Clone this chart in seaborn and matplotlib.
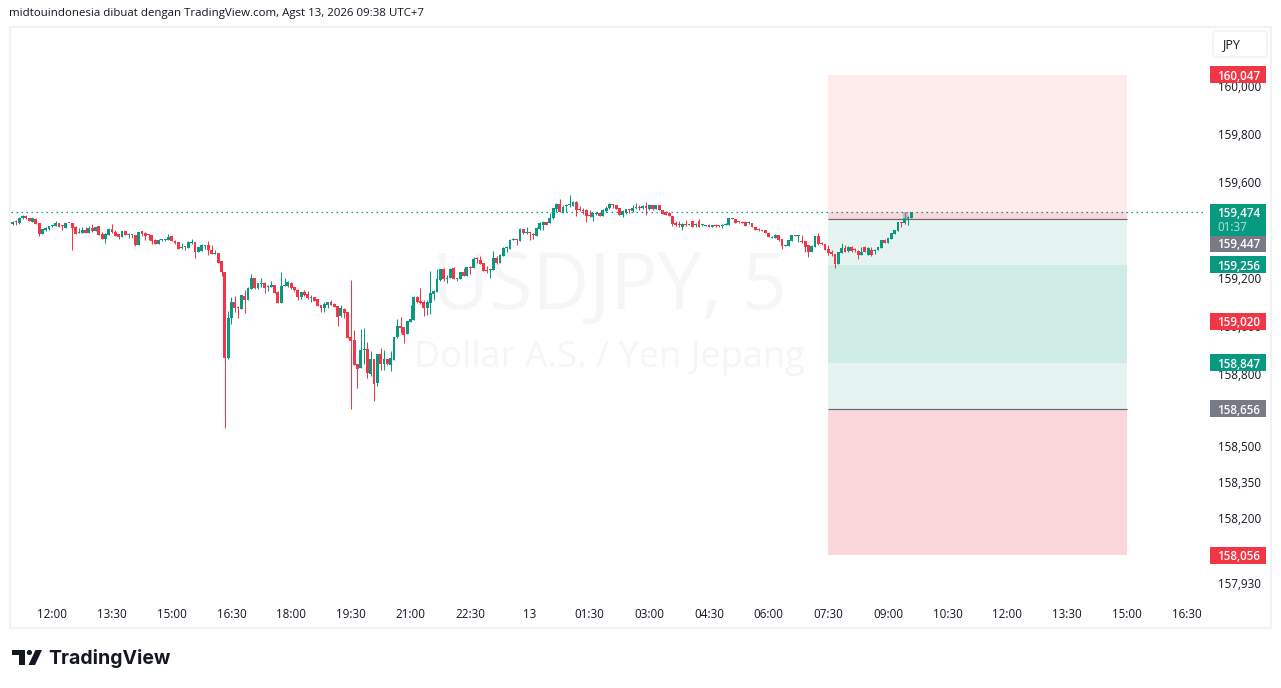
import matplotlib
matplotlib.use('Agg')
import matplotlib.pyplot as plt
import pandas as pd
import seaborn as sns
from matplotlib.patches import Circle, FancyBboxPatch, Polygon, Rectangle
from matplotlib.ticker import StrMethodFormatter

# USDJPY 5 minute candles (price as the axis prints it, 159,427 -> 159427)
opens = [
    159427, 159435, 159428, 159449, 159459, 159449, 159434, 159446, 159428, 159384,
    159398, 159403, 159417, 159418, 159430, 159418, 159409, 159430, 159430, 159413,
    159389, 159389, 159400, 159388, 159409, 159396, 159417, 159382, 159363, 159379,
    159404, 159393, 159384, 159371, 159396, 159381, 159384, 159379, 159338, 159396,
    159386, 159384, 159379, 159359, 159342, 159359, 159359, 159359, 159375, 159356,
    159350, 159327, 159331, 159325, 159346, 159350, 159310, 159313, 159332, 159338,
    159317, 159300, 159303, 159271, 159225, 158866, 159032, 159100, 159079, 159070,
    159125, 159108, 159154, 159200, 159158, 159177, 159179, 159164, 159164, 159170,
    159141, 159095, 159166, 159166, 159179, 159162, 159150, 159120, 159141, 159133,
    159118, 159120, 159112, 159087, 159075, 159087, 159100, 159091, 159083, 159041,
    159070, 159058, 158954, 158941, 158841, 158825, 158900, 158904, 158800, 158862,
    158762, 158883, 158841, 158862, 158837, 158858, 158954, 159000, 158996, 158966,
    159016, 159025, 159120, 159104, 159100, 159075, 159095, 159133, 159141, 159192,
    159238, 159196, 159200, 159241, 159196, 159196, 159225, 159209, 159246, 159242,
    159282, 159275, 159263, 159234, 159235, 159233, 159283, 159263, 159292, 159323,
    159321, 159359, 159363, 159354, 159404, 159388, 159391, 159385, 159375, 159404,
    159421, 159434, 159429, 159450, 159488, 159510, 159474, 159499, 159503, 159500,
    159517, 159486, 159484, 159484, 159461, 159454, 159468, 159471, 159459, 159479,
    159492, 159509, 159504, 159492, 159463, 159471, 159488, 159479, 159491, 159496,
    159491, 159500, 159488, 159504, 159488, 159504, 159483, 159475, 159471, 159458,
    159429, 159422, 159413, 159425, 159422, 159436, 159422, 159438, 159420, 159418,
    159421, 159414, 159421, 159418, 159418, 159421, 159421, 159450, 159446, 159438,
    159433, 159433, 159428, 159429, 159413, 159404, 159400, 159400, 159388, 159368,
    159367, 159379, 159363, 159333, 159333, 159354, 159379, 159375, 159353, 159354,
    159338, 159308, 159329, 159375, 159345, 159342, 159321, 159308, 159300, 159258,
    159306, 159325, 159313, 159331, 159321, 159313, 159296, 159329, 159296, 159317,
    159313, 159317, 159325, 159358, 159345, 159363, 159384, 159396, 159433, 159429, 159446, 159450,
]
highs = [
    159438, 159442, 159453, 159463, 159463, 159449, 159450, 159449, 159428, 159403,
    159411, 159417, 159421, 159436, 159431, 159421, 159430, 159430, 159430, 159417,
    159407, 159413, 159413, 159417, 159425, 159413, 159417, 159392, 159389, 159407,
    159425, 159398, 159384, 159396, 159396, 159389, 159384, 159379, 159392, 159396,
    159392, 159384, 159379, 159364, 159363, 159363, 159363, 159384, 159375, 159359,
    159350, 159346, 159334, 159354, 159363, 159352, 159329, 159342, 159338, 159354,
    159338, 159317, 159303, 159271, 159226, 159062, 159120, 159125, 159083, 159129,
    159150, 159162, 159216, 159200, 159179, 159200, 159183, 159170, 159187, 159170,
    159145, 159225, 159200, 159187, 159183, 159166, 159154, 159141, 159150, 159145,
    159129, 159120, 159112, 159087, 159100, 159100, 159108, 159095, 159083, 159087,
    159075, 159058, 159191, 158983, 158841, 158989, 158991, 158933, 158895, 158862,
    158883, 158908, 158900, 158862, 158895, 158954, 159029, 159037, 158996, 159020,
    159087, 159125, 159125, 159158, 159108, 159108, 159229, 159150, 159237, 159238,
    159241, 159213, 159242, 159245, 159200, 159225, 159242, 159245, 159250, 159288,
    159289, 159292, 159263, 159250, 159238, 159313, 159292, 159300, 159329, 159335,
    159363, 159366, 159363, 159409, 159404, 159413, 159393, 159389, 159413, 159434,
    159438, 159434, 159471, 159492, 159513, 159530, 159504, 159509, 159546, 159521,
    159521, 159500, 159492, 159488, 159484, 159471, 159475, 159475, 159488, 159500,
    159513, 159509, 159504, 159492, 159484, 159488, 159488, 159504, 159513, 159504,
    159504, 159517, 159508, 159504, 159504, 159504, 159483, 159479, 159475, 159458,
    159438, 159438, 159429, 159442, 159425, 159438, 159429, 159446, 159425, 159421,
    159425, 159421, 159425, 159421, 159425, 159428, 159450, 159450, 159446, 159438,
    159438, 159438, 159438, 159429, 159413, 159407, 159400, 159400, 159388, 159374,
    159384, 159379, 159363, 159338, 159358, 159379, 159379, 159379, 159379, 159354,
    159338, 159338, 159375, 159388, 159352, 159342, 159338, 159317, 159300, 159308,
    159346, 159338, 159333, 159333, 159324, 159317, 159329, 159333, 159329, 159329,
    159321, 159329, 159358, 159361, 159366, 159388, 159400, 159433, 159433, 159477, 159458, 159475,
]
lows = [
    159421, 159421, 159425, 159446, 159445, 159438, 159432, 159425, 159373, 159384,
    159395, 159400, 159414, 159417, 159413, 159400, 159409, 159428, 159317, 159384,
    159388, 159388, 159388, 159388, 159391, 159395, 159379, 159363, 159346, 159379,
    159389, 159375, 159363, 159371, 159379, 159367, 159368, 159335, 159338, 159375,
    159359, 159359, 159342, 159342, 159342, 159354, 159354, 159359, 159354, 159342,
    159321, 159321, 159317, 159325, 159342, 159284, 159309, 159313, 159321, 159296,
    159300, 159300, 159263, 159209, 158575, 158862, 159008, 159058, 159033, 159070,
    159054, 159108, 159154, 159154, 159154, 159164, 159137, 159145, 159162, 159137,
    159095, 159095, 159166, 159162, 159154, 159145, 159108, 159112, 159125, 159112,
    159100, 159104, 159083, 159058, 159058, 159075, 159087, 159079, 159000, 159037,
    159033, 158950, 158654, 158837, 158741, 158825, 158841, 158783, 158791, 158687,
    158750, 158816, 158816, 158837, 158812, 158858, 158950, 158970, 158929, 158966,
    159016, 159025, 159095, 159091, 159041, 159045, 159050, 159108, 159141, 159188,
    159189, 159181, 159198, 159196, 159189, 159196, 159209, 159209, 159217, 159242,
    159263, 159259, 159229, 159221, 159200, 159233, 159259, 159263, 159292, 159309,
    159321, 159359, 159338, 159354, 159384, 159384, 159359, 159363, 159375, 159400,
    159400, 159421, 159429, 159446, 159474, 159474, 159471, 159475, 159496, 159500,
    159459, 159481, 159467, 159435, 159454, 159438, 159463, 159459, 159459, 159475,
    159488, 159492, 159486, 159461, 159454, 159467, 159471, 159475, 159488, 159484,
    159488, 159463, 159483, 159483, 159488, 159483, 159467, 159463, 159458, 159417,
    159417, 159413, 159400, 159417, 159421, 159413, 159413, 159413, 159417, 159417,
    159413, 159413, 159413, 159413, 159408, 159421, 159421, 159446, 159429, 159429,
    159429, 159417, 159425, 159413, 159400, 159396, 159397, 159388, 159371, 159365,
    159367, 159354, 159321, 159333, 159333, 159354, 159375, 159350, 159346, 159308,
    159288, 159308, 159329, 159338, 159338, 159317, 159296, 159290, 159242, 159258,
    159304, 159308, 159308, 159310, 159308, 159279, 159296, 159307, 159296, 159292,
    159300, 159317, 159325, 159346, 159345, 159363, 159384, 159396, 159413, 159425, 159421, 159450,
]
closes = [
    159434, 159432, 159450, 159460, 159448, 159438, 159449, 159427, 159384, 159403,
    159407, 159416, 159421, 159431, 159414, 159416, 159430, 159428, 159409, 159384,
    159392, 159400, 159388, 159409, 159396, 159413, 159381, 159363, 159385, 159404,
    159391, 159375, 159371, 159396, 159379, 159385, 159381, 159338, 159392, 159384,
    159377, 159381, 159354, 159342, 159359, 159362, 159362, 159371, 159356, 159346,
    159321, 159329, 159328, 159350, 159350, 159309, 159329, 159338, 159335, 159317,
    159300, 159303, 159263, 159225, 158866, 159032, 159100, 159075, 159075, 159129,
    159108, 159158, 159200, 159158, 159179, 159180, 159158, 159166, 159170, 159137,
    159095, 159166, 159170, 159184, 159159, 159150, 159120, 159141, 159129, 159116,
    159120, 159104, 159083, 159075, 159091, 159100, 159087, 159079, 159037, 159075,
    159054, 158950, 158937, 158837, 158820, 158900, 158902, 158804, 158862, 158758,
    158883, 158841, 158862, 158841, 158866, 158954, 159000, 158991, 158962, 159020,
    159029, 159120, 159100, 159095, 159075, 159100, 159137, 159145, 159195, 159238,
    159196, 159200, 159238, 159196, 159200, 159225, 159209, 159245, 159243, 159279,
    159279, 159259, 159229, 159231, 159238, 159283, 159263, 159296, 159325, 159325,
    159359, 159363, 159359, 159406, 159386, 159391, 159388, 159378, 159409, 159429,
    159434, 159421, 159450, 159492, 159509, 159474, 159496, 159502, 159506, 159517,
    159484, 159484, 159481, 159459, 159459, 159471, 159471, 159459, 159484, 159492,
    159509, 159504, 159488, 159463, 159479, 159488, 159484, 159492, 159496, 159492,
    159500, 159492, 159504, 159488, 159504, 159483, 159467, 159463, 159458, 159425,
    159421, 159420, 159425, 159421, 159425, 159414, 159425, 159413, 159422, 159421,
    159414, 159421, 159417, 159415, 159421, 159425, 159450, 159446, 159429, 159435,
    159431, 159417, 159433, 159413, 159400, 159399, 159397, 159388, 159371, 159371,
    159379, 159358, 159333, 159338, 159358, 159379, 159377, 159379, 159349, 159329,
    159308, 159335, 159375, 159342, 159340, 159317, 159304, 159300, 159258, 159308,
    159325, 159308, 159329, 159314, 159317, 159296, 159308, 159307, 159327, 159296,
    159317, 159329, 159358, 159346, 159366, 159388, 159400, 159433, 159429, 159450, 159454, 159474,
]

# time axis: bar number -> label
time_bars = [12, 30, 48, 66, 84, 102, 120, 138, 156, 174, 192, 210, 228, 246, 264, 282, 300, 318, 336, 354]
time_labels = ['12:00', '13:30', '15:00', '16:30', '18:00', '19:30', '21:00', '22:30', '13', '01:30',
               '03:00', '04:30', '06:00', '07:30', '09:00', '10:30', '12:00', '13:30', '15:00', '16:30']
price_ticks = [160000, 159800, 159600, 159400, 159200, 159000, 158800, 158500, 158350, 158200, 157930]

# long position tool
tool_start = 246
tool_end = 336
stop_price = 160047
entry_price = 159447
target_price = 158656
inner_top = 159256
inner_bottom = 158847
last_price = 159474
low_stop_price = 158046
# printed value, colour, height on the price scale where the tag sits
price_tags = [(160047, '#F23645', 160047), (159447, '#787B86', 159344), (159256, '#089981', 159256),
              (159020, '#F23645', 159020), (158847, '#089981', 158847), (158656, '#787B86', 158656),
              (158056, '#F23645', 158044)]

UP = '#089981'
DOWN = '#F23645'
W, H = 1281, 688
PX_BAR = 3.316
BAR0_PX = 12.6
UNITS_PER_PX = 1000 / 240

sns.set_theme(style='white')
plt.rcParams['font.family'] = ['Open Sans', 'DejaVu Sans']

candles = pd.DataFrame({'bar': range(len(closes)), 'open': opens, 'high': highs, 'low': lows, 'close': closes})
candles['direction'] = ['up' if c >= o else 'down' for o, c in zip(opens, closes)]
wicks = candles.melt(id_vars=['bar', 'direction'], value_vars=['high', 'low'], value_name='price')

fig = plt.figure(figsize=(W / 100, H / 100), dpi=100, facecolor='white')

# chrome layer in pixels
chrome = fig.add_axes([0, 0, 1, 1], zorder=0)
chrome.set_xlim(0, W)
chrome.set_ylim(H, 0)
chrome.axis('off')
chrome.add_patch(Rectangle((10, 27), 1261, 601, fill=False, ec='#F3F3F5', lw=1.5))
chrome.text(9, 13.5, 'midtouindonesia dibuat dengan TradingView.com, Agst 13, 2026 09:38 UTC+7',
            fontsize=8.28, color='#131722', va='center', ha='left')
chrome.add_patch(Polygon([(12, 650), (25, 650), (25, 665), (19, 665), (19, 655), (12, 655)], color='#131722', lw=0))
chrome.add_patch(Circle((29.4, 652.5), 2.6, color='#131722', lw=0))
chrome.add_patch(Polygon([(35.5, 650), (42, 650), (35, 665), (28.5, 665)], color='#131722', lw=0))
chrome.text(48, 658, 'TradingView', fontsize=14.0, fontweight='bold', family=['Inter', 'DejaVu Sans'],
            color='#131722', va='center', ha='left')

left_px, right_px, top_px, bottom_px = 11, 1205, 28, 600
ax = fig.add_axes([left_px / W, 1 - bottom_px / H, (right_px - left_px) / W, (bottom_px - top_px) / H], zorder=1)
ax.patch.set_alpha(0)
ax.set_xlim((left_px - BAR0_PX) / PX_BAR, (right_px - BAR0_PX) / PX_BAR)
ax.set_ylim(160000 - (bottom_px - 86) * UNITS_PER_PX, 160000 + (86 - top_px) * UNITS_PER_PX)

# watermark
ax.text(0.5015, 1 - (289 - top_px) / (bottom_px - top_px), 'USDJPY, 5', transform=ax.transAxes, fontsize=56.5,
        color='#F6F6F7', ha='center', va='center', zorder=0)
ax.text(0.5015, 1 - (340 - top_px) / (bottom_px - top_px), 'Dollar A.S. / Yen Jepang', transform=ax.transAxes,
        fontsize=26, color='#F6F6F7', ha='center', va='top', zorder=0)

# position tool
span = tool_end - tool_start
ax.add_patch(Rectangle((tool_start, entry_price), span, stop_price - entry_price, fc='#FEEBEC', lw=0, zorder=1))
ax.add_patch(Rectangle((tool_start, entry_price), span, last_price - entry_price, fc='#FBD6DB', lw=0, zorder=1))
ax.add_patch(Rectangle((tool_start, target_price), span, entry_price - target_price, fc='#E6F4F1', lw=0, zorder=1))
ax.add_patch(Rectangle((tool_start, inner_bottom), span, inner_top - inner_bottom, fc='#D0ECE6', lw=0, zorder=1))
ax.add_patch(Rectangle((tool_start, low_stop_price), span, target_price - low_stop_price, fc='#FBD6DB', lw=0, zorder=1))
ax.hlines([entry_price, target_price], tool_start, tool_end, color='#666973', lw=0.85, zorder=1.5)

# last price line, runs up to the price tag
ax.axhline(last_price, color=UP, lw=0.9, ls=(0, (1.2, 2.8)), xmax=(1210 - left_px) / (right_px - left_px), zorder=1.6)

# candles
sns.lineplot(data=wicks, x='bar', y='price', units='bar', hue='direction', palette={'up': UP, 'down': DOWN},
             estimator=None, errorbar=None, sort=False, lw=0.75, legend=False, ax=ax, zorder=2,
             solid_capstyle='butt')
bottoms = candles[['open', 'close']].min(axis=1)
heights = (candles['open'] - candles['close']).abs().clip(lower=UNITS_PER_PX)
ax.bar(candles['bar'], heights, bottom=bottoms, width=0.85,
       color=[UP if d == 'up' else DOWN for d in candles['direction']], lw=0, zorder=3)

# axes
ax.set_xlabel('')
ax.set_ylabel('')
sns.despine(ax=ax, left=True, bottom=True, right=True, top=True)
ax.yaxis.tick_right()
ax.set_yticks(price_ticks)
ax.yaxis.set_major_formatter(StrMethodFormatter('{x:,.0f}'))
ax.set_xticks(time_bars)
ax.set_xticklabels(time_labels)
ax.tick_params(axis='y', length=0, pad=9.4, labelsize=8.4, labelcolor='#131722')
ax.tick_params(axis='x', length=0, pad=5.5, labelsize=8.4, labelcolor='#131722')
for lab in ax.get_yticklabels():
    if lab.get_text() in ('159,400', '159,000'):
        lab.set_color('#131722')

# price tags sit over the price scale
tag_left = (1210 - left_px) / (right_px - left_px)
tag_w = 56 / (right_px - left_px)
tag_text_x = (1239 - left_px) / (right_px - left_px)
tag_h = 17 * UNITS_PER_PX
tf = ax.get_yaxis_transform()
for value, colour, tag_y in price_tags:
    ax.add_patch(Rectangle((tag_left, tag_y - tag_h / 2), tag_w, tag_h, transform=tf, fc=colour, lw=0,
                           clip_on=False, zorder=5))
    ax.text(tag_text_x, tag_y, f'{value:,}', transform=tf, color='white', fontsize=8.4, fontweight='semibold',
            ha='center', va='center_baseline', clip_on=False, zorder=6)
# last price tag with countdown
ax.add_patch(Rectangle((tag_left, last_price - 23.5 * UNITS_PER_PX), tag_w, 32 * UNITS_PER_PX, transform=tf, fc=UP,
                       lw=0, clip_on=False, zorder=5))
ax.text(tag_text_x, last_price, f'{last_price:,}', transform=tf, color='white', fontsize=8.4, fontweight='semibold',
        ha='center', va='center_baseline', clip_on=False, zorder=6)
ax.text((1232 - left_px) / (right_px - left_px), last_price - 13.5 * UNITS_PER_PX, '01:37', transform=tf,
        color='#B5E0D8', fontsize=8.4, ha='center', va='center_baseline', clip_on=False, zorder=6)

# small tool handle near the last candle
ax.add_patch(Rectangle((903, 212), 5, 7, transform=chrome.transData, fc='#9598A1', alpha=0.55, lw=0, zorder=4))

# JPY button
chrome.add_patch(FancyBboxPatch((1213, 31), 54, 26, boxstyle='round,pad=0,rounding_size=3', fc='white',
                                ec='#F0F1F3', lw=1))
chrome.text(1222, 44.5, 'JPY', fontsize=9.0, color='#131722', ha='left', va='center')

fig.savefig('out.png', dpi=100, facecolor='white')
